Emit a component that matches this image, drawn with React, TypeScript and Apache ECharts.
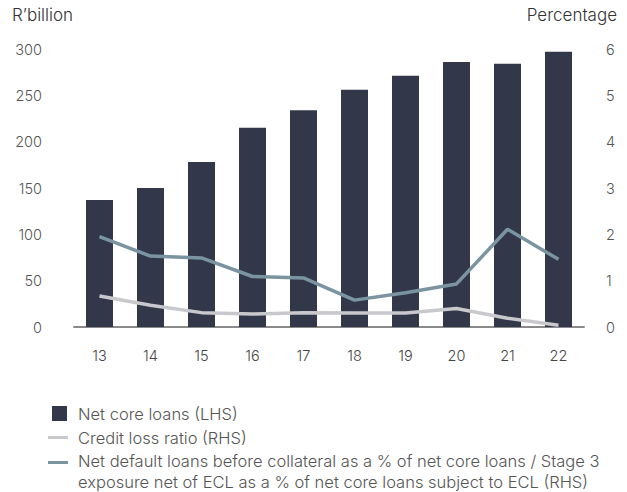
import React, { useEffect, useRef } from "react";
import * as echarts from "echarts";

const categories = ["13", "14", "15", "16", "17", "18", "19", "20", "21", "22"];
const netCoreLoans = [137, 150, 178, 215, 234, 256, 271, 286, 284, 297];
const creditLossRatio = [0.67, 0.47, 0.31, 0.28, 0.31, 0.3, 0.3, 0.4, 0.19, 0.04];
const netDefaultLoans = [1.95, 1.53, 1.49, 1.09, 1.06, 0.58, 0.74, 0.93, 2.11, 1.46];
const leftTicks = { min: 0, max: 300, interval: 50 };
const rightTicks = { min: 0, max: 6, interval: 1 };
const legendNames = [
  "Net core loans (LHS)",
  "Credit loss ratio (RHS)",
  "Net default loans before collateral as a % of net core loans / Stage 3\nexposure net of ECL as a % of net core loans subject to ECL (RHS)",
];

const FONT = "Inter, 'Noto Sans', sans-serif";
const BAR = "#323849";
const GREY = "#c8c8cd";
const TEAL = "#7a95a1";
const TXT = { fontFamily: FONT, fontWeight: 300 as any };

export default function App() {
  const ref = useRef<HTMLDivElement>(null);
  useEffect(() => {
    if (!ref.current) return;
    const chart = echarts.init(ref.current, undefined, { renderer: "svg" });
    chart.setOption({
      animation: false,
      textStyle: { fontFamily: FONT },
      grid: { left: 74, right: 43, top: 49, bottom: 165 },
      xAxis: {
        type: "category",
        data: categories,
        axisLine: { lineStyle: { color: "#8a8a8a", width: 2 } },
        axisTick: { show: false },
        axisLabel: { color: "#444", fontSize: 14.5, margin: 21, ...TXT },
      },
      yAxis: [
        {
          type: "value",
          ...leftTicks,
          splitLine: { show: false },
          axisLine: { show: false },
          axisTick: { show: false },
          axisLabel: { color: "#555", fontSize: 14.5, margin: 32, ...TXT },
        },
        {
          type: "value",
          ...rightTicks,
          splitLine: { show: false },
          axisLine: { show: false },
          axisTick: { show: false },
          axisLabel: { color: "#555", fontSize: 14.5, margin: 22, ...TXT },
        },
      ],
      graphic: [
        {
          type: "text",
          left: 12,
          top: 6,
          style: { text: "R\u2019billion", fill: "#333", fontSize: 17, ...TXT },
        },
        {
          type: "text",
          right: 10,
          top: 6,
          style: { text: "Percentage", fill: "#333", fontSize: 17, ...TXT },
        },
        { type: "rect", shape: { x: 52, y: 406, width: 15, height: 15 }, style: { fill: BAR } },
        {
          type: "text",
          x: 78,
          y: 414,
          style: { text: legendNames[0], fill: "#555", fontSize: 16.5, verticalAlign: "middle", ...TXT },
        },
        { type: "rect", shape: { x: 48, y: 436, width: 20, height: 3 }, style: { fill: GREY } },
        {
          type: "text",
          x: 78,
          y: 438,
          style: { text: legendNames[1], fill: "#555", fontSize: 16.5, verticalAlign: "middle", ...TXT },
        },
        { type: "rect", shape: { x: 48, y: 461, width: 20, height: 3 }, style: { fill: TEAL } },
        {
          type: "text",
          x: 78,
          y: 450,
          style: { text: legendNames[2], fill: "#555", fontSize: 16.5, lineHeight: 21, verticalAlign: "top", ...TXT },
        },
      ],
      series: [
        {
          name: legendNames[0],
          type: "bar",
          data: netCoreLoans,
          barWidth: 27,
          itemStyle: { color: BAR },
          yAxisIndex: 0,
        },
        {
          name: legendNames[1],
          type: "line",
          data: creditLossRatio,
          yAxisIndex: 1,
          symbol: "none",
          lineStyle: { color: GREY, width: 3.5 },
          itemStyle: { color: GREY },
        },
        {
          name: legendNames[2],
          type: "line",
          data: netDefaultLoans,
          yAxisIndex: 1,
          symbol: "none",
          lineStyle: { color: TEAL, width: 3.5 },
          itemStyle: { color: TEAL },
        },
      ],
    });
    return () => chart.dispose();
  }, []);
  return <div ref={ref} style={{ width: 627, height: 492, position: "absolute", left: 0, top: 0 }} />;
}
